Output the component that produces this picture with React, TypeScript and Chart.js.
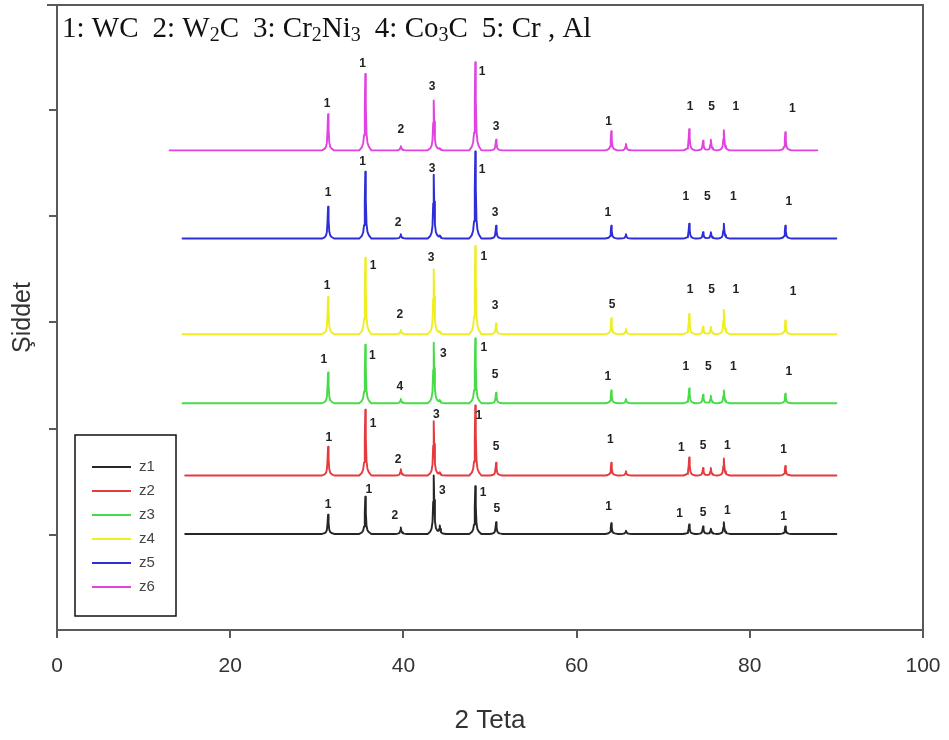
import React, { useEffect, useRef } from 'react';
import { Chart, registerables } from 'chart.js';

Chart.register(...registerables);

// ---------- data ----------
const SERIES_NAMES = ['z1', 'z2', 'z3', 'z4', 'z5', 'z6'];
const SERIES_COLORS = ['#262626', '#e53b3f', '#47dc47', '#eeee22', '#2e2ed8', '#e043e0'];
// vertical offset of each pattern (stacked display), intensity units
const SERIES_OFFSETS = [1, 56, 124, 189, 279, 362];
const SERIES_START = [14.8, 14.8, 14.5, 14.5, 14.5, 13.0];
const SERIES_END = [90, 90, 90, 90, 90, 87.8];

// 2θ positions of the reflections
const PEAK_POS = [31.3, 35.6, 39.7, 43.5, 44.2, 48.3, 50.7, 64.0, 65.7, 73.0, 74.6, 75.5, 77.0, 84.1];
// peak intensities above each pattern's baseline
const PEAKS_Z1 = [18, 35, 6, 55, 8, 45, 11, 10, 3, 9, 7, 5, 11, 7];
const PEAKS_Z2 = [27, 62, 6, 51, 3, 66, 12, 12, 4, 17, 7, 7, 16, 9];
const PEAKS_Z3 = [29, 55, 4, 57, 3, 61, 10, 12, 4, 14, 8, 7, 12, 9];
const PEAKS_Z4 = [35, 72, 4, 61, 3, 83, 10, 15, 5, 19, 7, 7, 23, 13];
const PEAKS_Z5 = [30, 63, 4, 60, 3, 82, 12, 12, 4, 14, 6, 6, 14, 12];
const PEAKS_Z6 = [34, 72, 4, 47, 2, 83, 10, 18, 6, 20, 9, 10, 19, 17];

// phase labels: 2θ, height above baseline, text
const LBL_Z1_X = [31.3, 36.0, 39.0, 44.5, 49.2, 50.8, 63.7, 71.9, 74.6, 77.4, 83.9];
const LBL_Z1_H = [28, 42, 17, 41, 39, 24, 26, 19, 20, 22, 16];
const LBL_Z1_T = ['1', '1', '2', '3', '1', '5', '1', '1', '5', '1', '1'];
const LBL_Z2_X = [31.4, 36.5, 39.4, 43.8, 48.7, 50.7, 63.9, 72.1, 74.6, 77.4, 83.9];
const LBL_Z2_H = [36, 49, 15, 57, 56, 27, 34, 26, 28, 28, 24];
const LBL_Z2_T = ['1', '1', '2', '3', '1', '5', '1', '1', '5', '1', '1'];
const LBL_Z3_X = [30.8, 36.4, 39.6, 44.6, 49.3, 50.6, 63.6, 72.6, 75.2, 78.1, 84.5];
const LBL_Z3_H = [41, 45, 16, 47, 52, 27, 25, 34, 34, 34, 30];
const LBL_Z3_T = ['1', '1', '4', '3', '1', '5', '1', '1', '5', '1', '1'];
const LBL_Z4_X = [31.2, 36.5, 39.6, 43.2, 49.3, 50.6, 64.1, 73.1, 75.6, 78.4, 85.0];
const LBL_Z4_H = [46, 64, 18, 72, 73, 27, 28, 42, 42, 42, 40];
const LBL_Z4_T = ['1', '1', '2', '3', '1', '3', '5', '1', '5', '1', '1'];
const LBL_Z5_X = [31.3, 35.3, 39.4, 43.3, 49.1, 50.6, 63.6, 72.6, 75.1, 78.1, 84.5];
const LBL_Z5_H = [43, 72, 15, 66, 65, 24, 24, 39, 39, 39, 35];
const LBL_Z5_T = ['1', '1', '2', '3', '1', '3', '1', '1', '5', '1', '1'];
const LBL_Z6_X = [31.2, 35.3, 39.7, 43.3, 49.1, 50.7, 63.7, 73.1, 75.6, 78.4, 84.9];
const LBL_Z6_H = [44, 82, 19, 60, 74, 22, 27, 41, 41, 41, 39];
const LBL_Z6_T = ['1', '1', '2', '3', '1', '3', '1', '1', '5', '1', '1'];

const X_TICKS = [0, 20, 40, 60, 80, 100];
const Y_TICKS = [0, 100, 200, 300, 400];
const X_TITLE = '2 Teta';
const Y_TITLE = 'Şiddet';
// header: [main text, subscript] segments per phase
const PHASES: string[][][] = [
  [['1: WC', '']],
  [['2: W', '2'], ['C', '']],
  [['3: Cr', '2'], ['Ni', '3']],
  [['4: Co', '3'], ['C', '']],
  [['5: Cr , Al', '']],
];

const ALL_PEAKS = [PEAKS_Z1, PEAKS_Z2, PEAKS_Z3, PEAKS_Z4, PEAKS_Z5, PEAKS_Z6];
const ALL_LBL_X = [LBL_Z1_X, LBL_Z2_X, LBL_Z3_X, LBL_Z4_X, LBL_Z5_X, LBL_Z6_X];
const ALL_LBL_H = [LBL_Z1_H, LBL_Z2_H, LBL_Z3_H, LBL_Z4_H, LBL_Z5_H, LBL_Z6_H];
const ALL_LBL_T = [LBL_Z1_T, LBL_Z2_T, LBL_Z3_T, LBL_Z4_T, LBL_Z5_T, LBL_Z6_T];

// sharp reflection outline (relative 2θ, fraction of peak height)
const SHAPE_DX = [-0.7, -0.4, -0.25, -0.14, -0.06, 0, 0.06, 0.14, 0.25, 0.4, 0.7];
const SHAPE_F = [0, 0.04, 0.09, 0.2, 0.55, 1, 0.58, 0.22, 0.1, 0.05, 0];

function shapeAt(d: number): number {
  if (d <= SHAPE_DX[0] || d >= SHAPE_DX[SHAPE_DX.length - 1]) return 0;
  for (let i = 0; i < SHAPE_DX.length - 1; i++) {
    if (d >= SHAPE_DX[i] && d <= SHAPE_DX[i + 1]) {
      const t = (d - SHAPE_DX[i]) / (SHAPE_DX[i + 1] - SHAPE_DX[i]);
      return SHAPE_F[i] + t * (SHAPE_F[i + 1] - SHAPE_F[i]);
    }
  }
  return 0;
}

function buildPattern(k: number) {
  const start = SERIES_START[k];
  const end = SERIES_END[k];
  const heights = ALL_PEAKS[k];
  const xs: number[] = [start, end];
  PEAK_POS.forEach((p) => SHAPE_DX.forEach((d) => {
    const x = +(p + d).toFixed(3);
    if (x > start && x < end) xs.push(x);
  }));
  const uniq = Array.from(new Set(xs)).sort((a, b) => a - b);
  return uniq.map((x) => {
    let y = SERIES_OFFSETS[k];
    PEAK_POS.forEach((p, i) => { y += heights[i] * shapeAt(x - p); });
    return { x, y };
  });
}

const AXIS_COLOR = '#5a5a5a';
const TEXT_COLOR = '#333333';

const decorPlugin = {
  id: 'decor',
  afterDraw(chart: any) {
    const { ctx, chartArea, scales } = chart;
    const xs = scales.x;
    const ys = scales.y;
    ctx.save();
    // frame (top & right)
    ctx.strokeStyle = AXIS_COLOR;
    ctx.lineWidth = 2;
    ctx.beginPath();
    ctx.moveTo(chartArea.left - 10, chartArea.top);
    ctx.lineTo(chartArea.right, chartArea.top);
    ctx.lineTo(chartArea.right, chartArea.bottom);
    ctx.stroke();

    // peak labels
    ctx.fillStyle = '#222';
    ctx.font = 'bold 12px "Liberation Sans", Arial, sans-serif';
    ctx.textAlign = 'center';
    ctx.textBaseline = 'middle';
    ALL_LBL_X.forEach((arr, k) => {
      arr.forEach((x, i) => {
        const px = xs.getPixelForValue(x);
        const py = ys.getPixelForValue(SERIES_OFFSETS[k] + ALL_LBL_H[k][i]);
        ctx.fillText(ALL_LBL_T[k][i], px, py);
      });
    });

    // header with phase list
    ctx.fillStyle = '#111';
    ctx.textAlign = 'left';
    ctx.textBaseline = 'alphabetic';
    let cx = chartArea.left + 5;
    const baseY = chartArea.top + 32;
    PHASES.forEach((segs) => {
      segs.forEach(([main, sub]) => {
        ctx.font = '29px "Liberation Serif", "Times New Roman", serif';
        ctx.fillText(main, cx, baseY);
        cx += ctx.measureText(main).width;
        if (sub) {
          ctx.font = '20px "Liberation Serif", "Times New Roman", serif';
          ctx.fillText(sub, cx, baseY + 4);
          cx += ctx.measureText(sub).width;
        }
      });
      cx += 14;
    });

    // legend box
    const bx = 75, by = 435, bw = 101, bh = 181;
    ctx.strokeStyle = '#111';
    ctx.lineWidth = 1.5;
    ctx.strokeRect(bx, by, bw, bh);
    ctx.font = '15px "Liberation Sans", Arial, sans-serif';
    ctx.textBaseline = 'middle';
    chart.data.datasets.forEach((ds: any, i: number) => {
      const ly = by + 32 + i * 24;
      ctx.strokeStyle = ds.borderColor;
      ctx.lineWidth = 2;
      ctx.beginPath();
      ctx.moveTo(bx + 17, ly);
      ctx.lineTo(bx + 56, ly);
      ctx.stroke();
      ctx.fillStyle = '#444';
      ctx.fillText(ds.label, bx + 64, ly);
    });
    ctx.restore();
  },
};

export default function App() {
  const ref = useRef<HTMLCanvasElement | null>(null);

  useEffect(() => {
    if (!ref.current) return;
    const datasets = SERIES_NAMES.map((name, k) => ({
      label: name,
      data: buildPattern(k),
      borderColor: SERIES_COLORS[k],
      backgroundColor: SERIES_COLORS[k],
      borderWidth: 1.9,
      borderJoinStyle: 'round' as const,
      borderCapStyle: 'round' as const,
      pointRadius: 0,
      tension: 0,
      fill: false,
    }));
    const chart = new Chart(ref.current, {
      type: 'line',
      data: { datasets },
      options: {
        animation: false,
        responsive: false,
        layout: { padding: { left: 0, top: 5, right: 26, bottom: 0 } },
        plugins: { legend: { display: false }, tooltip: { enabled: false } },
        scales: {
          x: {
            type: 'linear',
            min: 0,
            max: 100,
            afterBuildTicks: (s: any) => { s.ticks = X_TICKS.map((v) => ({ value: v })); },
            afterFit: (s: any) => { s.height = 110; s.paddingLeft = 0; s.paddingRight = 0; },
            ticks: {
              color: TEXT_COLOR,
              font: { family: '"Liberation Sans", Arial, sans-serif', size: 21 },
              padding: 16,
              maxRotation: 0,
            },
            grid: { drawOnChartArea: false, drawTicks: true, tickLength: 8, color: AXIS_COLOR, lineWidth: 2 },
            border: { color: AXIS_COLOR, width: 2 },
            title: {
              display: true,
              text: X_TITLE,
              color: TEXT_COLOR,
              font: { family: '"Liberation Sans", Arial, sans-serif', size: 26 },
              padding: { top: 0, bottom: 4 },
            },
          },
          y: {
            type: 'linear',
            min: -89.4,
            max: 498.8,
            afterBuildTicks: (s: any) => { s.ticks = Y_TICKS.map((v) => ({ value: v })); },
            afterFit: (s: any) => { s.width = 57; s.paddingTop = 0; s.paddingBottom = 0; },
            ticks: { callback: () => '', padding: 0 },
            grid: { drawOnChartArea: false, drawTicks: true, tickLength: 8, color: AXIS_COLOR, lineWidth: 2 },
            border: { color: AXIS_COLOR, width: 2 },
            title: {
              display: true,
              text: Y_TITLE,
              color: TEXT_COLOR,
              font: { family: '"Liberation Sans", Arial, sans-serif', size: 25 },
              padding: { top: 8, bottom: 0 },
            },
          },
        },
      },
      plugins: [decorPlugin],
    });
    return () => chart.destroy();
  }, []);

  return (
    <div style={{ position: 'absolute', left: 0, top: 0, width: 949, height: 740, background: '#fff' }}>
      <canvas ref={ref} width={949} height={740} style={{ display: 'block' }} />
    </div>
  );
}
